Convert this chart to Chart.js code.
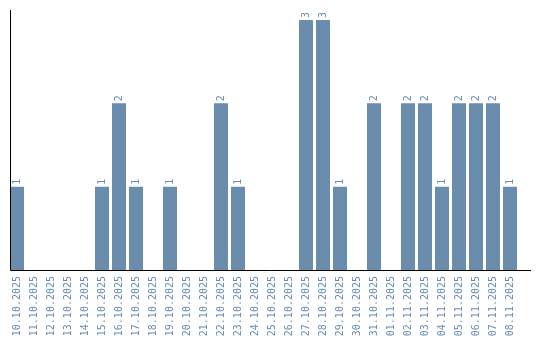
<!DOCTYPE html>
<html>
<head>
<meta charset="utf-8">
<script src="https://cdn.jsdelivr.net/npm/chart.js@4"></script>
<style>
  body { margin: 0; background: #fff; }
  #wrap { width: 540px; height: 340px; }
</style>
</head>
<body>
<div id="wrap"><canvas id="dayChart"></canvas></div>
<script>
const days = [
  "10.10.2025", "11.10.2025", "12.10.2025", "13.10.2025", "14.10.2025",
  "15.10.2025", "16.10.2025", "17.10.2025", "18.10.2025", "19.10.2025",
  "20.10.2025", "21.10.2025", "22.10.2025", "23.10.2025", "24.10.2025",
  "25.10.2025", "26.10.2025", "27.10.2025", "28.10.2025", "29.10.2025",
  "30.10.2025", "31.10.2025", "01.11.2025", "02.11.2025", "03.11.2025",
  "04.11.2025", "05.11.2025", "06.11.2025", "07.11.2025", "08.11.2025"
];
const counts = [
  1, 0, 0, 0, 0,
  1, 2, 1, 0, 1,
  0, 0, 2, 1, 0,
  0, 0, 3, 3, 1,
  0, 2, 0, 2, 2,
  1, 2, 2, 2, 1
];

const barColor = "rgb(106,140,173)";
const textColor = "rgb(106,140,173)";
const monoFont = "'DejaVu Sans Mono'";

// value above each bar, rotated like the axis labels
const valueLabels = {
  id: "valueLabels",
  afterDatasetsDraw(chart) {
    const ctx = chart.ctx;
    const meta = chart.getDatasetMeta(0);
    ctx.save();
    ctx.font = "10px " + monoFont;
    ctx.fillStyle = textColor;
    meta.data.forEach((bar, i) => {
      const v = counts[i];
      if (!v) return;
      ctx.save();
      ctx.translate(bar.x, bar.y - 2);
      ctx.rotate(-Math.PI / 2);
      ctx.textAlign = "left";
      ctx.textBaseline = "middle";
      ctx.fillText(String(v), 0, 0);
      ctx.restore();
    });
    ctx.restore();
  }
};

// plain black axis lines
const axisLines = {
  id: "axisLines",
  afterDatasetsDraw(chart) {
    const { ctx, chartArea } = chart;
    ctx.save();
    ctx.strokeStyle = "#000";
    ctx.lineWidth = 1;
    ctx.beginPath();
    ctx.moveTo(chartArea.left + 2, chartArea.top);
    ctx.lineTo(chartArea.left + 2, chartArea.bottom + 0.5);
    ctx.lineTo(chartArea.right + 12.5, chartArea.bottom + 0.5);
    ctx.stroke();
    ctx.restore();
  }
};

new Chart(document.getElementById("dayChart"), {
  type: "bar",
  data: {
    labels: days,
    datasets: [{
      data: counts,
      backgroundColor: barColor,
      barPercentage: 14 / 17,
      categoryPercentage: 1
    }]
  },
  options: {
    responsive: true,
    maintainAspectRatio: false,
    animation: false,
    layout: { padding: { left: 8.5, right: 21.5, top: 10, bottom: 0 } },
    plugins: {
      legend: { display: false },
      tooltip: { enabled: false }
    },
    scales: {
      x: {
        grid: { display: false, drawTicks: false },
        border: { display: false },
        ticks: {
          autoSkip: false,
          minRotation: 90,
          maxRotation: 90,
          padding: 6,
          color: textColor,
          font: { family: monoFont, size: 10 }
        },
        afterFit(scale) { scale.height = 70; }
      },
      y: {
        min: 0,
        max: 3.12,
        grid: { display: false },
        border: { display: false },
        ticks: { display: false },
        afterFit(scale) { scale.width = 0; }
      }
    }
  },
  plugins: [valueLabels, axisLines]
});
</script>
</body>
</html>
